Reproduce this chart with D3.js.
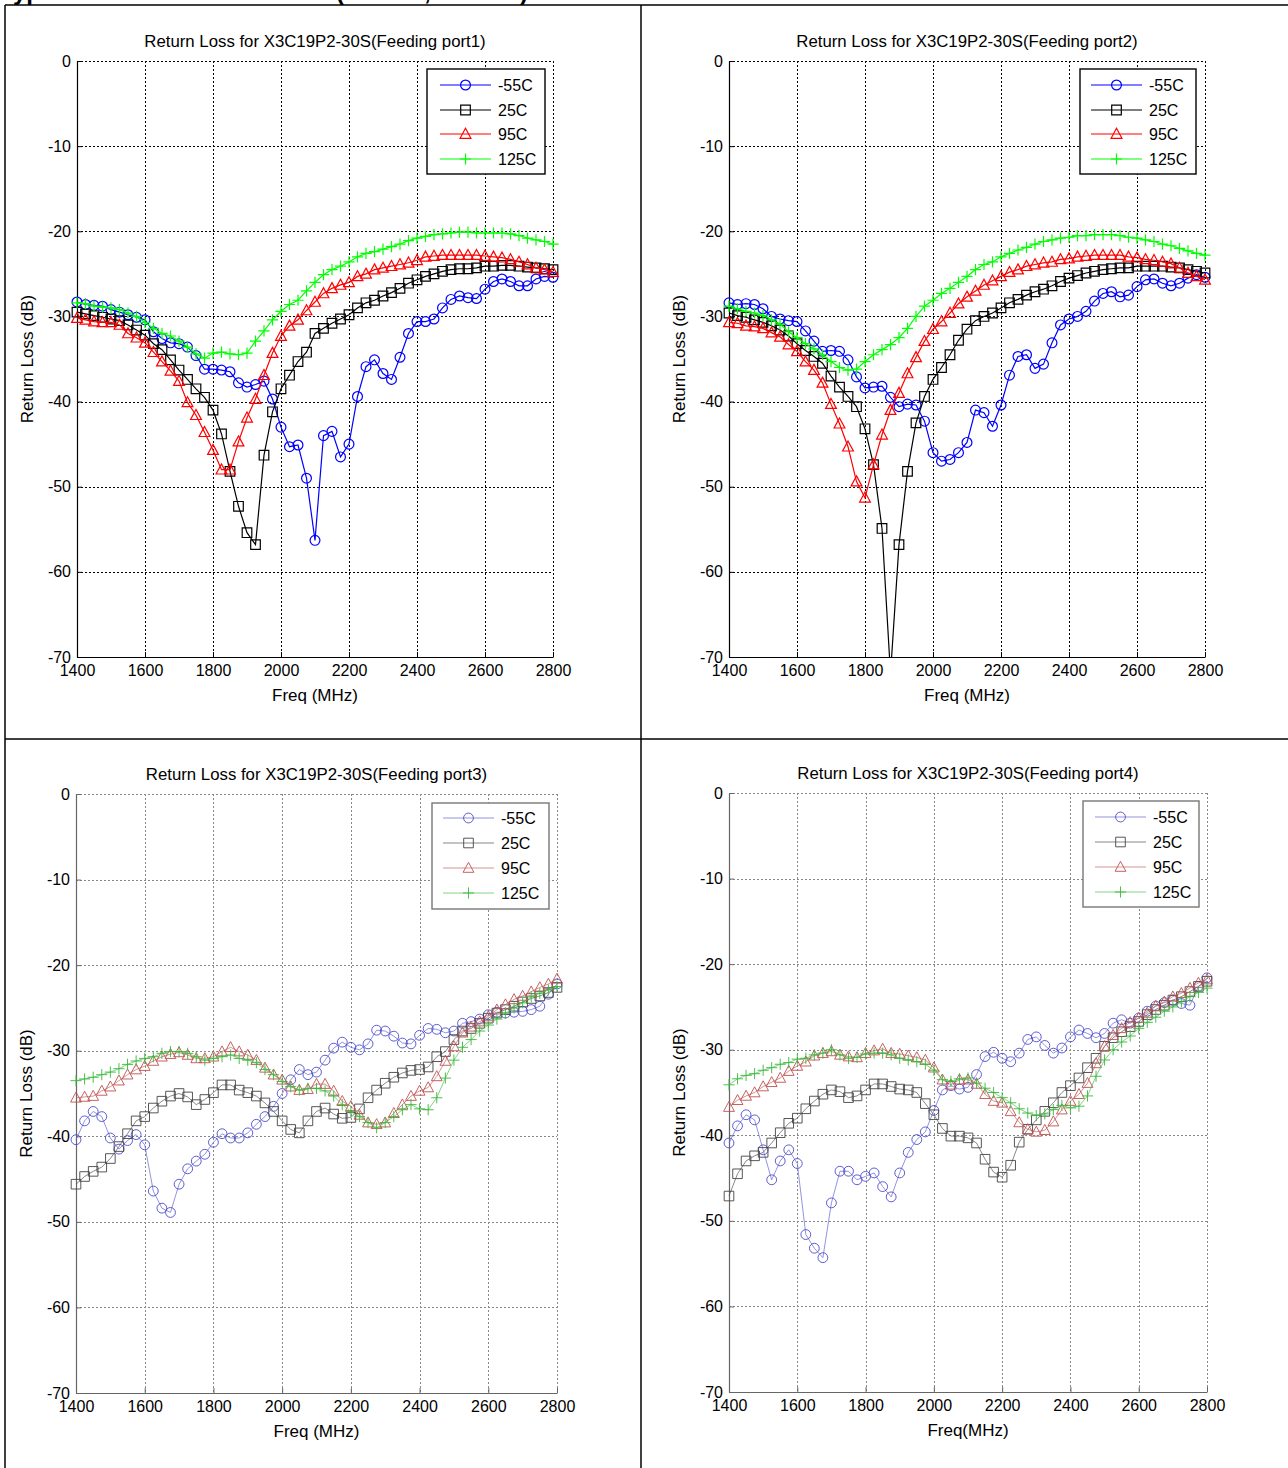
<!DOCTYPE html>
<html>
<head>
<meta charset="utf-8">
<script src="https://cdn.jsdelivr.net/npm/d3@7"></script>
<style>
body { margin: 0; background: #fff; }
svg { display: block; font-family: "Liberation Sans", Arial, sans-serif; }
</style>
</head>
<body>
<svg id="chart" width="1288" height="1468"></svg>
<script>
// sweep 1400..2800 MHz, one point every 25 MHz
const freqs = d3.range(1400, 2801, 25);
const seriesNames = ["-55C", "25C", "95C", "125C"];
const xTicks = [1400, 1600, 1800, 2000, 2200, 2400, 2600, 2800];
const yTicks = [0, -10, -20, -30, -40, -50, -60, -70];

// Feeding port1
const port1Minus55 = [-28.3, -28.6, -28.7, -28.8, -29.2, -29.5, -29.8, -30.1, -30.4, -31.8, -32.6, -33.1, -33.2, -33.6, -34.6, -36.2, -36.2, -36.3, -36.5, -37.8, -38.3, -38.0, -37.6, -39.7, -43.0, -45.3, -45.1, -49.0, -56.3, -44.0, -43.5, -46.5, -45.0, -39.4, -35.9, -35.1, -36.7, -37.4, -34.8, -32.0, -30.6, -30.6, -30.3, -29.0, -28.0, -27.6, -27.8, -27.9, -26.8, -25.9, -25.6, -25.9, -26.4, -26.4, -25.6, -25.3, -25.4];
const port1Plus25 = [-29.5, -29.7, -29.9, -30.1, -30.3, -30.5, -31.0, -31.6, -32.2, -33.2, -33.9, -35.1, -36.3, -37.4, -38.5, -39.5, -41.0, -43.8, -48.2, -52.3, -55.4, -56.8, -46.3, -41.2, -38.5, -36.9, -35.3, -34.2, -32.0, -31.4, -30.8, -30.3, -29.8, -29.0, -28.4, -28.1, -27.6, -27.2, -26.7, -26.1, -25.7, -25.3, -25.0, -24.7, -24.5, -24.4, -24.4, -24.3, -24.1, -24.1, -24.0, -24.0, -24.1, -24.2, -24.3, -24.4, -24.5];
const port1Plus95 = [-30.2, -30.4, -30.6, -30.7, -30.7, -31.0, -32.0, -32.5, -33.1, -34.2, -35.3, -36.4, -37.6, -40.1, -41.6, -43.6, -45.7, -48.0, -48.0, -44.7, -41.9, -39.7, -36.9, -34.3, -32.3, -31.1, -30.4, -29.3, -28.3, -27.3, -26.7, -26.3, -26.0, -25.3, -25.0, -24.5, -24.3, -24.1, -23.9, -23.7, -23.4, -23.0, -22.9, -22.8, -22.8, -22.8, -22.8, -22.8, -22.9, -23.0, -23.1, -23.3, -23.6, -23.9, -24.3, -24.5, -24.8];
const port1Plus125 = [-28.4, -28.5, -28.8, -28.9, -29.0, -29.2, -29.6, -30.0, -30.7, -31.4, -32.0, -32.3, -32.9, -33.6, -34.4, -34.9, -34.3, -34.2, -34.4, -34.5, -34.3, -32.9, -31.7, -30.4, -29.4, -28.6, -28.1, -27.0, -26.0, -25.1, -24.5, -24.1, -23.6, -23.0, -22.6, -22.4, -22.1, -21.8, -21.5, -21.1, -20.8, -20.6, -20.4, -20.3, -20.2, -20.1, -20.1, -20.2, -20.2, -20.2, -20.2, -20.3, -20.5, -20.8, -21.0, -21.2, -21.5];

// Feeding port2
const port2Minus55 = [-28.4, -28.6, -28.5, -28.6, -29.1, -30.0, -30.3, -30.5, -30.6, -31.7, -32.9, -34.1, -34.0, -34.1, -35.1, -37.1, -38.4, -38.3, -38.2, -39.5, -40.6, -40.3, -40.4, -42.3, -46.0, -47.0, -46.8, -46.0, -44.8, -41.0, -41.3, -42.9, -40.4, -36.9, -34.7, -34.5, -36.1, -35.6, -33.1, -31.0, -30.3, -30.0, -29.4, -28.2, -27.3, -27.1, -27.7, -27.5, -26.5, -25.7, -25.6, -26.1, -26.4, -26.1, -25.5, -25.1, -25.4];
const port2Plus25 = [-29.6, -29.9, -30.1, -30.4, -30.7, -31.1, -31.6, -32.3, -33.2, -34.0, -34.7, -35.5, -37.0, -38.3, -39.4, -40.6, -43.2, -47.4, -54.9, -72.0, -56.8, -48.2, -42.5, -39.4, -37.4, -36.0, -34.5, -32.8, -31.5, -30.5, -30.0, -29.6, -29.0, -28.4, -28.0, -27.5, -27.1, -26.8, -26.4, -25.9, -25.5, -25.2, -24.9, -24.7, -24.5, -24.4, -24.3, -24.3, -24.1, -24.1, -24.1, -24.1, -24.2, -24.3, -24.5, -24.7, -24.9];
const port2Plus95 = [-30.7, -30.8, -31.1, -31.2, -31.4, -31.9, -32.4, -33.3, -34.1, -35.3, -36.3, -37.8, -40.3, -42.6, -45.3, -49.4, -51.3, -47.4, -43.9, -41.0, -39.0, -36.7, -34.8, -32.9, -31.5, -30.6, -29.6, -28.5, -27.7, -27.0, -26.3, -25.8, -25.3, -24.8, -24.5, -24.1, -23.9, -23.7, -23.6, -23.3, -23.2, -23.0, -22.9, -22.8, -22.8, -22.8, -22.8, -23.0, -23.1, -23.3, -23.4, -23.6, -23.8, -24.3, -24.9, -25.3, -25.7];
const port2Plus125 = [-28.8, -29.1, -29.4, -29.6, -29.9, -30.4, -30.9, -31.8, -32.5, -33.2, -33.8, -34.5, -35.3, -36.0, -36.3, -36.2, -35.3, -34.5, -33.9, -33.3, -32.5, -31.4, -30.0, -28.8, -28.1, -27.3, -26.7, -26.0, -25.3, -24.5, -23.9, -23.6, -23.0, -22.6, -22.2, -21.9, -21.5, -21.2, -21.0, -20.8, -20.7, -20.5, -20.5, -20.4, -20.4, -20.4, -20.5, -20.7, -20.8, -21.0, -21.2, -21.5, -21.7, -22.0, -22.3, -22.6, -22.8];

// Feeding port3
const port3Minus55 = [-40.4, -38.2, -37.1, -37.7, -40.2, -41.5, -40.5, -39.8, -41.0, -46.4, -48.4, -48.9, -45.6, -43.8, -42.9, -42.1, -40.7, -39.7, -40.2, -40.2, -39.6, -38.6, -37.7, -36.5, -35.0, -33.4, -32.2, -32.8, -32.5, -31.1, -29.7, -29.0, -29.6, -29.9, -29.2, -27.6, -27.7, -28.3, -29.1, -29.2, -28.2, -27.4, -27.5, -27.9, -27.7, -26.8, -26.6, -26.3, -25.8, -25.5, -25.6, -25.5, -25.4, -25.2, -24.8, -23.4, -22.2];
const port3Plus25 = [-45.6, -44.7, -44.1, -43.6, -42.6, -41.2, -39.7, -38.2, -37.7, -36.7, -35.9, -35.3, -35.0, -35.4, -36.3, -35.7, -34.9, -34.0, -34.0, -34.6, -34.9, -35.3, -36.1, -37.1, -38.2, -39.2, -39.6, -38.2, -37.1, -36.7, -37.4, -37.9, -37.8, -36.8, -35.5, -34.6, -33.8, -33.1, -32.6, -32.3, -32.2, -31.9, -30.7, -30.1, -28.7, -27.7, -27.4, -26.8, -26.2, -25.6, -25.2, -24.8, -24.3, -23.9, -23.6, -23.2, -22.6];
const port3Plus95 = [-35.5, -35.4, -35.3, -34.7, -34.2, -33.5, -32.8, -32.2, -31.8, -31.2, -30.7, -30.4, -30.2, -30.5, -30.9, -30.9, -30.7, -30.1, -29.6, -30.1, -30.5, -31.1, -32.0, -32.8, -33.4, -34.2, -34.6, -34.5, -33.9, -33.9, -34.7, -35.9, -36.5, -37.5, -38.4, -38.6, -38.4, -37.3, -36.3, -35.3, -34.7, -34.3, -33.0, -31.2, -29.5, -27.9, -27.2, -26.6, -26.0, -25.2, -24.6, -24.0, -23.6, -23.1, -22.6, -22.2, -21.6];
const port3Plus125 = [-33.5, -33.3, -33.1, -32.8, -32.5, -32.1, -31.6, -31.2, -30.9, -30.7, -30.3, -30.1, -30.1, -30.3, -30.7, -31.1, -30.9, -30.7, -30.5, -30.9, -31.1, -31.4, -32.2, -32.8, -33.6, -34.2, -34.6, -34.4, -34.4, -34.7, -35.3, -36.3, -37.1, -37.7, -38.4, -39.0, -38.4, -37.7, -36.9, -36.3, -36.8, -36.9, -35.5, -33.2, -31.1, -29.6, -28.7, -27.7, -27.0, -26.3, -25.6, -25.0, -24.4, -23.7, -23.3, -22.9, -22.5];

// Feeding port4
const port4Minus55 = [-40.9, -38.9, -37.6, -38.2, -41.7, -45.2, -43.0, -41.7, -43.3, -51.6, -53.2, -54.3, -47.9, -44.2, -44.2, -45.2, -44.8, -44.4, -46.0, -47.2, -44.4, -42.0, -40.5, -39.6, -37.1, -34.7, -34.2, -34.6, -34.4, -32.9, -30.8, -30.3, -31.0, -31.4, -30.4, -28.8, -28.5, -29.5, -30.4, -29.8, -28.5, -27.7, -28.1, -28.6, -28.1, -26.9, -26.5, -26.9, -26.3, -25.5, -24.9, -24.5, -24.2, -24.6, -24.8, -22.6, -21.6];
const port4Plus25 = [-47.1, -44.5, -43.0, -42.4, -42.0, -40.9, -39.7, -38.6, -38.0, -36.9, -36.0, -35.2, -34.7, -34.9, -35.6, -35.4, -34.7, -34.0, -34.0, -34.3, -34.6, -34.7, -35.0, -36.3, -37.6, -39.2, -40.1, -40.1, -40.3, -40.9, -42.8, -44.3, -44.9, -43.5, -40.8, -39.3, -38.2, -37.2, -36.2, -35.0, -34.2, -33.3, -32.1, -31.0, -29.6, -28.6, -27.9, -27.3, -26.7, -25.9, -25.3, -24.8, -24.2, -23.8, -23.2, -22.6, -22.0];
const port4Plus95 = [-36.7, -35.9, -35.4, -35.0, -34.3, -33.8, -33.3, -32.5, -31.9, -31.4, -30.7, -30.4, -30.2, -30.6, -30.8, -30.9, -30.4, -30.1, -29.9, -30.4, -30.5, -30.7, -30.9, -31.2, -32.1, -33.5, -34.1, -33.5, -33.5, -34.0, -35.2, -36.0, -36.2, -37.2, -38.5, -39.3, -39.6, -39.4, -38.4, -37.0, -36.0, -35.2, -33.9, -31.6, -29.6, -28.3, -27.5, -26.8, -26.3, -25.7, -24.9, -24.4, -23.8, -23.4, -22.8, -22.2, -21.8];
const port4Plus125 = [-34.1, -33.4, -33.0, -32.8, -32.4, -32.1, -31.7, -31.5, -31.1, -31.0, -30.6, -30.4, -30.0, -30.6, -31.0, -30.9, -30.5, -30.4, -30.4, -30.6, -31.0, -31.2, -31.4, -31.7, -32.4, -33.5, -33.7, -33.4, -33.3, -33.9, -34.5, -35.0, -35.6, -36.2, -36.9, -37.4, -37.7, -37.5, -37.0, -36.5, -36.8, -36.6, -35.4, -33.1, -31.2, -30.0, -29.1, -28.4, -27.5, -26.8, -26.2, -25.5, -25.0, -24.4, -23.8, -23.3, -22.8];

const svg = d3.select("#chart");

// the report table the four plots sit in
const table = svg.append("g").attr("stroke", "#000").attr("stroke-width", 1.5);
table.append("line").attr("x1", 5).attr("y1", 5).attr("x2", 1288).attr("y2", 5);
table.append("line").attr("x1", 5).attr("y1", 5).attr("x2", 5).attr("y2", 1468);
table.append("line").attr("x1", 641).attr("y1", 5).attr("x2", 641).attr("y2", 1468);
table.append("line").attr("x1", 5).attr("y1", 739).attr("x2", 1288).attr("y2", 739);

// heading of the page above, cut off at the top edge of the crop
const heading = svg.append("g")
    .attr("font-weight", "bold")
    .attr("font-size", 24);
[["Typical Return Loss", 0], ["(", 336], [",", 424], [")", 520]].forEach(([t, x]) => {
    heading.append("text").attr("x", x).attr("y", 0).text(t);
});

const strong = {
    line: ["#0000ff", "#000000", "#ff0000", "#00ff00"],
    mark: ["#0000ff", "#000000", "#ff0000", "#00ff00"],
    lineWidth: 1.2,
    markWidth: 1.2,
    axis: "#000",
    grid: "#000",
    gridDash: "2,2",
    legendBorder: "#000"
};
const light = {
    line: ["#6464d2", "#555555", "#c06464", "#50c050"],
    mark: ["#4c4ccc", "#444444", "#c05050", "#38b838"],
    lineWidth: 0.7,
    markWidth: 0.9,
    axis: "#666",
    grid: "#888",
    gridDash: "2,2",
    legendBorder: "#777"
};

const markers = [
    d3.symbol(d3.symbolCircle, 76)(),
    "M-4.8,-4.8h9.6v9.6h-9.6z",
    "M0,-5.7L5.4,4.3L-5.4,4.3Z",
    "M-5.6,0H5.6M0,-5.6V5.6"
];

const panels = [
    {
        title: "Return Loss for X3C19P2-30S(Feeding port1)", xLabel: "Freq (MHz)",
        left: 77, right: 553, top: 61, bottom: 657, style: strong,
        series: [port1Minus55, port1Plus25, port1Plus95, port1Plus125],
        legend: { x: 427, y: 69, w: 118, h: 105, rows: [85, 110, 134, 159], lx: 440 }
    },
    {
        title: "Return Loss for X3C19P2-30S(Feeding port2)", xLabel: "Freq (MHz)",
        left: 729, right: 1205, top: 61, bottom: 657, style: strong,
        series: [port2Minus55, port2Plus25, port2Plus95, port2Plus125],
        legend: { x: 1080, y: 69, w: 116, h: 105, rows: [85, 110, 134, 159], lx: 1091 }
    },
    {
        title: "Return Loss for X3C19P2-30S(Feeding port3)", xLabel: "Freq (MHz)",
        left: 76, right: 557, top: 794, bottom: 1393, style: light,
        series: [port3Minus55, port3Plus25, port3Plus95, port3Plus125],
        legend: { x: 432, y: 803, w: 117, h: 106, rows: [818, 843, 868, 893], lx: 443 }
    },
    {
        title: "Return Loss for X3C19P2-30S(Feeding port4)", xLabel: "Freq(MHz)",
        left: 729, right: 1207, top: 793, bottom: 1392, style: light,
        series: [port4Minus55, port4Plus25, port4Plus95, port4Plus125],
        legend: { x: 1083, y: 801, w: 116, h: 106, rows: [817, 842, 867, 892], lx: 1095 }
    }
];

panels.forEach((p, i) => drawPanel(p, i));

function drawPanel(p, idx) {
    const st = p.style;
    const x = d3.scaleLinear().domain([1400, 2800]).range([p.left, p.right]);
    const y = d3.scaleLinear().domain([-70, 0]).range([p.bottom, p.top]);
    const g = svg.append("g");

    // dotted grid
    const grid = g.append("g")
        .attr("stroke", st.grid)
        .attr("stroke-width", 1)
        .attr("stroke-dasharray", st.gridDash)
        .attr("shape-rendering", "crispEdges");
    grid.selectAll("line.v")
        .data(xTicks.slice(1))
        .join("line")
        .attr("x1", d => Math.round(x(d)) + 0.5).attr("x2", d => Math.round(x(d)) + 0.5)
        .attr("y1", p.top).attr("y2", p.bottom);
    grid.selectAll("line.h")
        .data(yTicks.slice(0, -1))
        .join("line")
        .attr("x1", p.left).attr("x2", p.right)
        .attr("y1", d => Math.round(y(d)) + 0.5).attr("y2", d => Math.round(y(d)) + 0.5);

    const yAxis = d3.axisLeft(y)
        .tickValues(yTicks)
        .tickFormat(d => String(d))
        .tickSizeInner(-5)
        .tickSizeOuter(0)
        .tickPadding(6);
    const xAxis = d3.axisBottom(x)
        .tickValues(xTicks)
        .tickFormat(d => String(d))
        .tickSizeInner(-5)
        .tickSizeOuter(0)
        .tickPadding(8);

    const ya = g.append("g")
        .attr("transform", "translate(" + p.left + ",0)")
        .call(yAxis);
    const xa = g.append("g")
        .attr("transform", "translate(0," + p.bottom + ")")
        .call(xAxis);
    [ya, xa].forEach(a => {
        a.select(".domain").attr("stroke", st.axis).attr("stroke-width", 1.2);
        a.selectAll(".tick line").attr("stroke", st.axis);
        a.selectAll("text")
            .attr("font-family", "Liberation Sans, Arial, sans-serif")
            .attr("font-size", 16)
            .attr("fill", "#000");
    });

    // curves, clipped at the -70 dB floor
    const clipId = "clip" + idx;
    svg.append("clipPath").attr("id", clipId)
        .append("rect")
        .attr("x", p.left - 12).attr("y", p.top - 12)
        .attr("width", p.right - p.left + 24)
        .attr("height", p.bottom - p.top + 12);

    const line = d3.line()
        .x((d, j) => x(freqs[j]))
        .y(d => y(d));

    const plot = g.append("g").attr("clip-path", "url(#" + clipId + ")");
    p.series.forEach((vals, s) => {
        plot.append("path")
            .attr("d", line(vals))
            .attr("fill", "none")
            .attr("stroke", st.line[s])
            .attr("stroke-width", st.lineWidth);
        plot.append("g")
            .selectAll("path")
            .data(vals)
            .join("path")
            .attr("transform", (d, j) => "translate(" + x(freqs[j]) + "," + y(d) + ")")
            .attr("d", markers[s])
            .attr("fill", "none")
            .attr("stroke", st.mark[s])
            .attr("stroke-width", st.markWidth);
    });

    // title and labels
    const cx = (p.left + p.right) / 2;
    g.append("text")
        .attr("x", cx).attr("y", p.top - 14)
        .attr("text-anchor", "middle")
        .attr("font-size", 16.8)
        .text(p.title);
    g.append("text")
        .attr("x", cx).attr("y", p.bottom + 44)
        .attr("text-anchor", "middle")
        .attr("font-size", 17)
        .text(p.xLabel);
    g.append("text")
        .attr("transform", "translate(" + (p.left - 44) + "," + ((p.top + p.bottom) / 2) + ") rotate(-90)")
        .attr("text-anchor", "middle")
        .attr("font-size", 17)
        .text("Return Loss (dB)");

    // legend
    const lg = p.legend;
    const leg = g.append("g");
    leg.append("rect")
        .attr("x", lg.x).attr("y", lg.y)
        .attr("width", lg.w).attr("height", lg.h)
        .attr("fill", "#fff")
        .attr("stroke", st.legendBorder)
        .attr("stroke-width", 1.4);
    seriesNames.forEach((name, s) => {
        const ry = lg.rows[s];
        leg.append("line")
            .attr("x1", lg.lx).attr("x2", lg.lx + 51)
            .attr("y1", ry).attr("y2", ry)
            .attr("stroke", st.line[s])
            .attr("stroke-width", st.lineWidth);
        leg.append("path")
            .attr("transform", "translate(" + (lg.lx + 25.5) + "," + ry + ")")
            .attr("d", markers[s])
            .attr("fill", "none")
            .attr("stroke", st.mark[s])
            .attr("stroke-width", st.markWidth);
        leg.append("text")
            .attr("x", lg.lx + 58).attr("y", ry)
            .attr("dy", "0.36em")
            .attr("font-size", 16)
            .text(name);
    });
}
</script>
</body>
</html>
